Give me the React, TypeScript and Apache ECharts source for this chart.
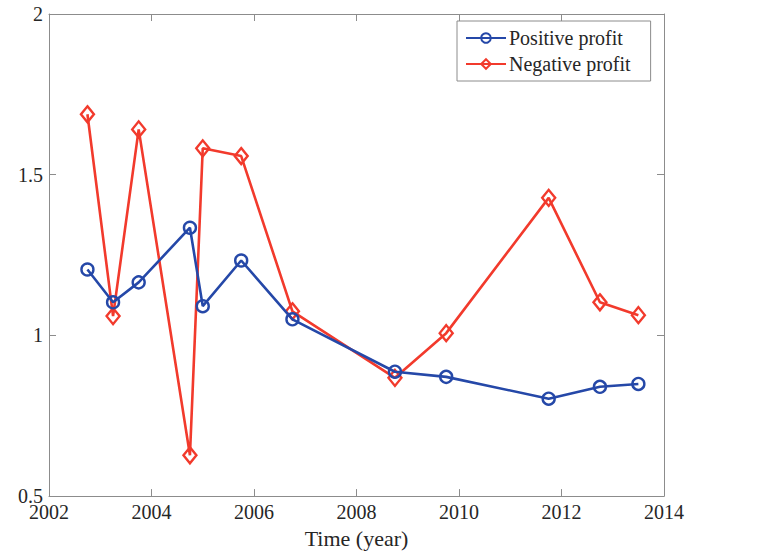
import React, { useEffect, useRef } from "react";
import * as echarts from "echarts";

// Time points (fractional years) and profit ratios
const years = [2002.75, 2003.25, 2003.75, 2004.75, 2005.0, 2005.75, 2006.75, 2008.75, 2009.75, 2011.75, 2012.75, 2013.5];
const positiveProfit = [1.205, 1.103, 1.165, 1.335, 1.091, 1.233, 1.05, 0.887, 0.871, 0.803, 0.84, 0.849];
const negativeProfit = [1.688, 1.06, 1.641, 0.627, 1.582, 1.558, 1.075, 0.868, 1.007, 1.428, 1.103, 1.063];
const seriesNames = ["Positive profit", "Negative profit"];

const FONT = "Liberation Serif";
const AXIS_COLOR = "#8c8c8c";
const TEXT_COLOR = "#262626";
const BLUE = "#2548a8";
const RED = "#f23a2c";

export default function App() {
  const ref = useRef<HTMLDivElement>(null);

  useEffect(() => {
    if (!ref.current) return;
    const chart = echarts.init(ref.current, null, { renderer: "svg" });

    const pairs = (vals: number[]) => years.map((y, i) => [y, vals[i]]);

    const baseX = {
      type: "value" as const,
      min: 2002,
      max: 2014,
      interval: 2,
      splitLine: { show: false },
      axisLine: { show: true, lineStyle: { color: AXIS_COLOR, width: 1 } },
      axisTick: { show: true, inside: true, length: 7, lineStyle: { color: AXIS_COLOR } },
    };
    const baseY = {
      type: "value" as const,
      min: 0.5,
      max: 2,
      interval: 0.5,
      splitLine: { show: false },
      axisLine: { show: true, lineStyle: { color: AXIS_COLOR, width: 1 } },
      axisTick: { show: true, inside: true, length: 7, lineStyle: { color: AXIS_COLOR } },
    };

    chart.setOption({
      animation: false,
      backgroundColor: "#ffffff",
      grid: { left: 49, right: 93, top: 14, bottom: 55, show: false },
      legend: {
        orient: "vertical",
        left: 457,
        top: 21,
        padding: [7, 20, 7, 8],
        itemGap: 6,
        itemWidth: 40,
        itemHeight: 12,
        backgroundColor: "#ffffff",
        borderColor: AXIS_COLOR,
        borderWidth: 1,
        textStyle: { fontFamily: FONT, fontSize: 20, color: TEXT_COLOR, padding: [0, 0, 0, -2] },
        data: seriesNames,
      },
      xAxis: [
        {
          ...baseX,
          position: "bottom",
          name: "Time (year)",
          nameLocation: "middle",
          nameGap: 30,
          nameTextStyle: { fontFamily: FONT, fontSize: 22, color: TEXT_COLOR },
          axisLabel: {
            fontFamily: FONT,
            fontSize: 20,
            color: TEXT_COLOR,
            margin: 6,
            formatter: (v: number) => String(v),
          },
        },
        { ...baseX, position: "top", axisLabel: { show: false } },
      ],
      yAxis: [
        {
          ...baseY,
          position: "left",
          axisLabel: {
            fontFamily: FONT,
            fontSize: 20,
            color: TEXT_COLOR,
            margin: 6,
            formatter: (v: number) => String(v),
          },
        },
        { ...baseY, position: "right", axisLabel: { show: false } },
      ],
      series: [
        {
          name: seriesNames[0],
          type: "line",
          data: pairs(positiveProfit),
          symbol: "circle",
          symbolSize: 12,
          lineStyle: { color: BLUE, width: 2.6 },
          itemStyle: { color: "rgba(255,255,255,0)", borderColor: BLUE, borderWidth: 2.4 },
          z: 3,
        },
        {
          name: seriesNames[1],
          type: "line",
          data: pairs(negativeProfit),
          symbol: "diamond",
          symbolSize: [13, 16],
          lineStyle: { color: RED, width: 2.6 },
          itemStyle: { color: "rgba(255,255,255,0)", borderColor: RED, borderWidth: 2.4 },
          z: 2,
        },
      ],
    });

    return () => chart.dispose();
  }, []);

  return <div ref={ref} style={{ position: "absolute", left: 0, top: 0, width: 757, height: 554 }} />;
}
